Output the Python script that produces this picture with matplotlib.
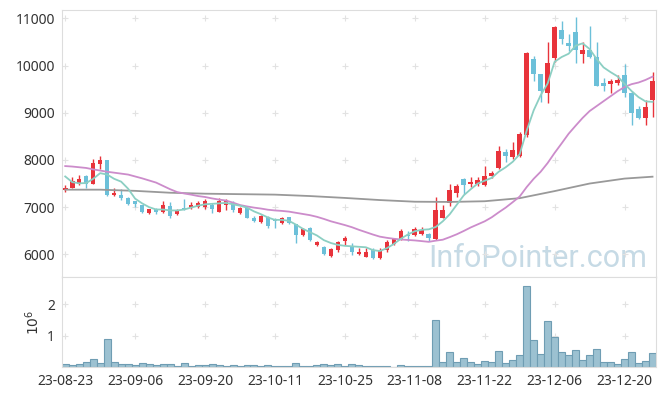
import numpy as np
import matplotlib
matplotlib.use("Agg")
import matplotlib.pyplot as plt

plt.rcParams['font.family'] = ['Noto Sans', 'DejaVu Sans']

# daily OHLC (23-08-23 .. 23-12-27)
opens = [7360, 7400, 7480, 7670, 7500, 7920, 7990, 7260, 7260, 7200,
         7120, 7040, 6880, 6950, 6900, 7030, 6850, 6980, 6980, 7010,
         7000, 7050, 6900, 7040, 7080, 6870, 6990, 6780, 6680, 6800,
         6730, 6660, 6790, 6640, 6400, 6550, 6200, 6160, 5960, 6090,
         6280, 6150, 6010, 5950, 6100, 5920, 6090, 6210, 6330, 6400,
         6400, 6430, 6440, 6320, 6780, 7080, 7290, 7600, 7490, 7480,
         7470, 7650, 7820, 8160, 8060, 8080, 8520, 10130, 9830, 9410,
         10150, 10760, 10470, 10710, 10240, 10320, 10180, 9630, 9600, 9640,
         9800, 9410, 9070, 8880, 9270]
closes = [7410, 7560, 7600, 7500, 7940, 7990, 7260, 7310, 7200, 7060,
          7070, 6890, 6960, 6900, 7050, 6820, 6940, 6950, 7050, 7090,
          7130, 6970, 7140, 7120, 6930, 6980, 6780, 6710, 6820, 6590,
          6710, 6780, 6670, 6400, 6530, 6310, 6270, 6010, 6110, 6270,
          6350, 6040, 6060, 6060, 5930, 6100, 6260, 6320, 6500, 6380,
          6540, 6520, 6350, 6930, 6930, 7370, 7440, 7460, 7540, 7580,
          7670, 7730, 8180, 8080, 8200, 8560, 10260, 9820, 9460, 10060,
          10810, 10560, 10410, 10330, 10320, 10180, 9560, 9560, 9670, 9700,
          9410, 8990, 8880, 9120, 9680]
highs = [7470, 7630, 7690, 7680, 8030, 8080, 8000, 7400, 7380, 7220,
         7130, 7050, 6970, 6990, 7120, 7100, 6950, 7170, 7100, 7140,
         7170, 7080, 7190, 7170, 7120, 7000, 7000, 6820, 6840, 6820,
         6760, 6800, 6800, 6650, 6560, 6570, 6290, 6180, 6130, 6290,
         6380, 6240, 6130, 6130, 6140, 6130, 6300, 6340, 6530, 6490,
         6580, 6570, 6450, 7210, 7050, 7490, 7490, 7610, 7630, 7630,
         7880, 7770, 8300, 8230, 8370, 8590, 10280, 10210, 9830, 10490,
         10830, 10950, 10670, 11030, 10490, 10830, 10490, 9740, 9720, 9790,
         10030, 9470, 9150, 9260, 9860]
lows = [7320, 7400, 7460, 7410, 7500, 7810, 7230, 7230, 7150, 7050,
        7000, 6880, 6850, 6850, 6880, 6780, 6840, 6930, 6950, 6990,
        6960, 6880, 6890, 6940, 6890, 6860, 6760, 6680, 6660, 6560,
        6560, 6640, 6650, 6230, 6380, 6290, 6170, 5980, 5940, 6060,
        6200, 5990, 5990, 5940, 5900, 5900, 6060, 6190, 6300, 6290,
        6390, 6410, 6290, 6300, 6760, 7030, 7210, 7280, 7420, 7450,
        7450, 7620, 7800, 7950, 8020, 8060, 8480, 9680, 9220, 9210,
        10070, 10460, 10310, 10060, 10060, 10170, 9560, 9470, 9410, 9580,
        9330, 8730, 8860, 8730, 8920]
volumes = [85e3, 50e3, 85e3, 150e3, 240e3, 120e3, 880e3, 150e3, 85e3, 85e3,
           50e3, 120e3, 85e3, 50e3, 85e3, 85e3, 20e3, 120e3, 20e3, 50e3,
           50e3, 85e3, 50e3, 20e3, 50e3, 20e3, 50e3, 50e3, 20e3, 50e3,
           20e3, 20e3, 20e3, 120e3, 20e3, 20e3, 50e3, 85e3, 50e3, 85e3,
           20e3, 85e3, 50e3, 20e3, 20e3, 20e3, 20e3, 10e3, 50e3, 20e3,
           20e3, 20e3, 20e3, 1480e3, 150e3, 470e3, 150e3, 280e3, 150e3, 85e3,
           180e3, 150e3, 500e3, 120e3, 210e3, 370e3, 2560e3, 850e3, 400e3, 1450e3,
           940e3, 470e3, 370e3, 530e3, 210e3, 370e3, 560e3, 150e3, 150e3, 85e3,
           240e3, 470e3, 120e3, 180e3, 430e3]

# moving average lines as drawn on the chart
ma5 = [7650, 7530, 7505, 7510, 7600, 7720, 7690, 7600, 7540, 7390,
       7180, 7080, 7000, 6950, 6950, 6930, 6930, 6950, 6990, 7030,
       7060, 7070, 7080, 7090, 7060, 7030, 6990, 6910, 6850, 6780,
       6730, 6730, 6710, 6630, 6540, 6470, 6400, 6300, 6240, 6200,
       6180, 6170, 6160, 6150, 6090, 6070, 6130, 6220, 6330, 6420,
       6490, 6520, 6530, 6580, 6700, 6850, 7050, 7250, 7380, 7500,
       7560, 7620, 7750, 7845, 7960, 8120, 8620, 9050, 9370, 9620,
       10080, 10180, 10250, 10420, 10470, 10350, 10140, 9960, 9860, 9770,
       9610, 9460, 9330, 9240, 9230]
ma20 = [7870, 7860, 7845, 7830, 7800, 7775, 7750, 7730, 7710, 7690,
        7650, 7610, 7565, 7520, 7450, 7380, 7320, 7290, 7265, 7235,
        7215, 7185, 7160, 7140, 7095, 7045, 7015, 6990, 6970, 6945,
        6930, 6920, 6905, 6880, 6855, 6830, 6795, 6750, 6700, 6660,
        6620, 6575, 6520, 6470, 6420, 6375, 6350, 6330, 6315, 6305,
        6295, 6280, 6265, 6290, 6310, 6365, 6425, 6495, 6570, 6635,
        6700, 6785, 6890, 6990, 7105, 7225, 7425, 7600, 7750, 7935,
        8150, 8350, 8555, 8725, 8890, 9035, 9140, 9245, 9350, 9455,
        9545, 9605, 9640, 9695, 9765]
ma120_idx = [0, 5, 10, 15, 20, 25, 30, 35, 40, 45, 50, 55, 60, 65, 70, 75, 80, 84]
ma120 = [7370, 7370, 7345, 7305, 7285, 7275, 7265, 7235, 7195, 7150,
         7115, 7110, 7125, 7190, 7340, 7500, 7605, 7645]

tick_idx = [0, 10, 20, 30, 40, 50, 60, 70, 80]
tick_labels = ["23-08-23", "23-09-06", "23-09-20", "23-10-11", "23-10-25",
               "23-11-08", "23-11-22", "23-12-06", "23-12-20"]
price_ticks = [6000, 7000, 8000, 9000, 10000, 11000]
vol_ticks = [1, 2]

RED = "#e8333b"
BLUE = "#6cc0d9"
GRID = "#e2e2e2"

o = np.array(opens)
c = np.array(closes)
x = np.arange(len(c))
col = np.where(c >= o, RED, BLUE)

fig = plt.figure(figsize=(6.65, 3.96), dpi=100)
ax = fig.add_axes([0.0928, 0.3005, 0.8937, 0.6735])
axv = fig.add_axes([0.0928, 0.0732, 0.8937, 0.2273], sharex=ax)

ax.text(0.985, 0.038, "InfoPointer.com", transform=ax.transAxes, ha="right",
        va="baseline", fontsize=22, color="#c6dae5", family="Roboto", zorder=0)

gx, gy = np.meshgrid(tick_idx, price_ticks)
ax.scatter(gx.ravel(), gy.ravel(), marker="+", s=20, color=GRID, linewidths=0.8, zorder=1)
gx, gy = np.meshgrid(tick_idx, vol_ticks)
axv.scatter(gx.ravel(), gy.ravel(), marker="+", s=20, color=GRID, linewidths=0.8, zorder=1)

ax.vlines(x, lows, highs, colors=col, linewidth=1, zorder=2)
ax.bar(x, np.maximum(np.abs(c - o), 12), bottom=np.minimum(o, c), width=0.66,
       color=col, linewidth=0, zorder=3)

ax.plot(ma120_idx, ma120, color="#999999", lw=1.3, zorder=4)
ax.plot(x, ma20, color="#cc8ccb", lw=1.3, zorder=4)
ax.plot(x, ma5, color="#8ccfc3", lw=1.3, zorder=4)

axv.bar(x, np.array(volumes) / 1e6, width=1.0, color="#9cc1d1",
        edgecolor="#6f9db3", linewidth=0.8, zorder=2)

ax.set_xlim(-0.5, 84.5)
ax.set_ylim(5520, 11170)
ax.set_yticks(price_ticks)
axv.set_ylim(0, 2.86)
axv.set_yticks(vol_ticks)
axv.set_xticks(tick_idx)
axv.set_xticklabels(tick_labels)
axv.set_ylabel(r"$10^6$", fontsize=10, color="#333333", labelpad=3)

for a in (ax, axv):
    for s in a.spines.values():
        s.set_color("#dddddd")
    a.tick_params(length=0, labelsize=10, labelcolor="#333333", pad=5)
ax.tick_params(labelbottom=False)

fig.savefig("out.png", dpi=100)
